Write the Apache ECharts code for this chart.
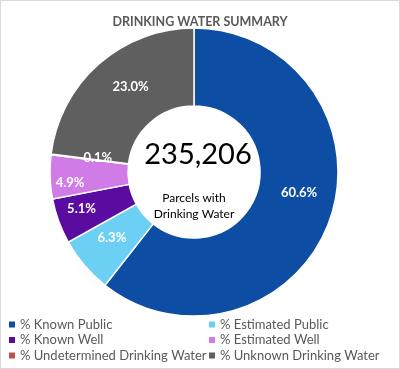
<!DOCTYPE html>
<html><head><meta charset="utf-8">
<script src="https://cdn.jsdelivr.net/npm/echarts@6/dist/echarts.min.js"></script>
<style>
html,body{margin:0;padding:0;background:#fff;}
#c{width:398px;height:367px;border:1px solid #d9d9d9;}
</style></head>
<body><div id="c"></div>
<script>
const titleText = 'DRINKING WATER SUMMARY';
const categories = ['% Known Public','% Estimated Public','% Known Well','% Estimated Well','% Undetermined Drinking Water','% Unknown Drinking Water'];
const values = [60.6, 6.3, 5.1, 4.9, 0.1, 23.0];
const colors = ['#0D4EA4','#6CD0F5','#5B0CA0','#D07BE6','#C0504D','#5F5F5F'];
const centerNumber = '235,206';
const centerCaption = 'Parcels with\nDrinking Water';
const leftLegend = [categories[0], categories[2], categories[4]];
const rightLegend = [categories[1], categories[3], categories[5]];
// label nudges (style only)
const labelOffsets = [[3,-14],[0,-4],[-11,0],[-16,7],[11,-1],[8,-4]];

const FONT = 'Lato';
const chart = echarts.init(document.getElementById('c'), null, {renderer:'canvas'});
const legendBase = {
  orient:'vertical', top:317, height:60, padding:0, itemWidth:8, itemHeight:8, itemGap:2.5, icon:'rect',
  textStyle:{color:'#595959', fontSize:13, fontFamily:FONT, padding:[0,0,0,-1]}, selectedMode:false
};
chart.setOption({
  animation:false,
  color: colors,
  title:{text:titleText, left:'center', top:9,
    textStyle:{color:'#595959', fontSize:12.5, fontWeight:'bold', fontFamily:FONT}},
  legend:[
    Object.assign({}, legendBase, {left:6, data:leftLegend}),
    Object.assign({}, legendBase, {left:206, data:rightLegend})
  ],
  graphic:[
    {type:'text', x:197, y:139, style:{text:centerNumber, fill:'#000', fontSize:29, fontFamily:FONT, textAlign:'center'}},
    {type:'text', x:193, y:189, style:{text:centerCaption, fill:'#000', fontSize:12, fontFamily:FONT, textAlign:'center', lineHeight:16}}
  ],
  series:[{
    type:'pie', center:[193,171], radius:[66,144], startAngle:90, clockwise:true,
    avoidLabelOverlap:false,
    itemStyle:{borderColor:'#fff', borderWidth:1.5},
    label:{show:true, position:'inside', color:'#fff', fontWeight:'bold', fontSize:13, fontFamily:FONT,
      formatter: p => p.value.toFixed(1) + '%'},
    labelLine:{show:false},
    emphasis:{disabled:true},
    data: categories.map((n,i)=>({name:n, value:values[i], label:{offset:labelOffsets[i]}}))
  }]
});
</script></body></html>
